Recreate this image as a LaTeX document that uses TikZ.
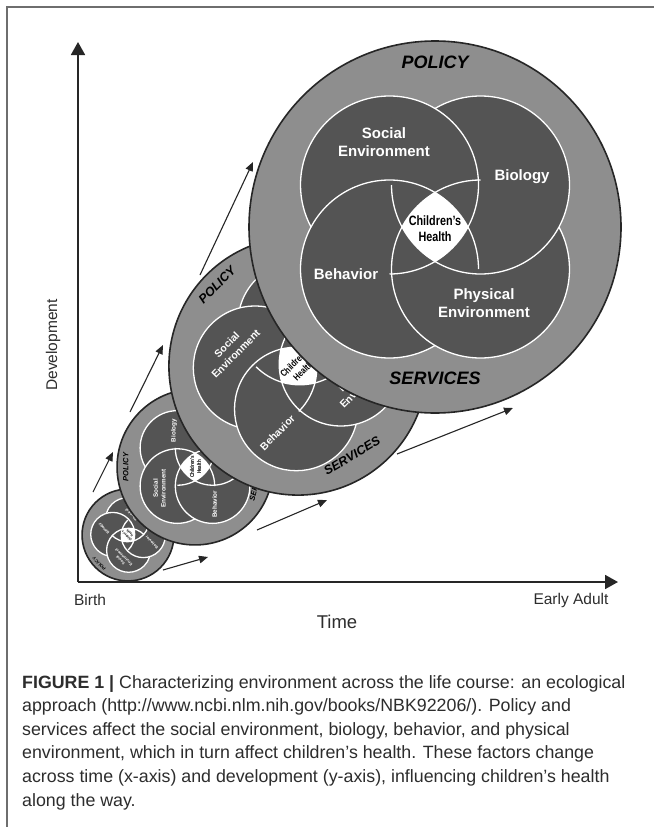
\documentclass[tikz,border=0pt]{standalone}
\usepackage{fontspec}
\setmainfont{Liberation Sans}
\usetikzlibrary{arrows.meta}

\definecolor{ringgray}{RGB}{142,142,142}
\definecolor{venngray}{RGB}{84,84,84}
\definecolor{framegray}{RGB}{110,110,110}
\definecolor{inkgray}{RGB}{45,45,45}

\tikzset{
  ringdisc/.style={fill=ringgray, draw=black!85, line width=1.6pt},
  venndisc/.style={fill=venngray},
  vennrim/.style={draw=white, line width=1.3pt},
  vennlabel/.style={text=white, font=\bfseries\fontsize{15}{18.5}\selectfont, align=center, inner sep=0pt, transform shape},
  healthlabel/.style={text=black, font=\bfseries\fontsize{13.5}{16.5}\selectfont, align=center, inner sep=0pt, transform shape},
  outerlabel/.style={text=black, font=\bfseries\itshape\fontsize{18}{20}\selectfont, inner sep=0pt, transform shape},
  growth/.style={-{Triangle[length=9pt,width=7.5pt]}, line width=1.1pt, draw=black!85},
  axisline/.style={-{Triangle[length=13pt,width=14pt]}, line width=1.8pt, draw=black!85},
  axislabel/.style={text=inkgray, font=\fontsize{15.5}{18}\selectfont, inner sep=0pt},
  captionline/.style={text=inkgray, font=\fontsize{17.8}{20}\selectfont, anchor=base west, inner sep=0pt},
}

% Labels of one stage, in its own (unrotated, unscaled) frame.
% #1 name prefix; \ecoservicestilt turns SERVICES about the centre.
\newcommand{\ecoPolicy}[1]{\node[outerlabel] (#1policy) at (0,165) {POLICY};}
\newcommand{\ecoServices}[1]{\node[outerlabel, rotate=\ecoservicestilt] (#1services) at (-90+\ecoservicestilt:151) {SERVICES};}
\newcommand{\ecoSocial}[1]{\node[vennlabel] (#1social) at (-51,85) {Social\\Environment};}
\newcommand{\ecoBiology}[1]{\node[vennlabel] (#1biology) at (87,50) {Biology};}
\newcommand{\ecoBehavior}[1]{\node[vennlabel] (#1behavior) at (-89,-47) {Behavior};}
\newcommand{\ecoPhysical}[1]{\node[vennlabel] (#1physical) at (49,-76) {Physical\\Environment};}
\newcommand{\ecoHealth}[1]{\node[healthlabel] (#1health) at (0,-1.5) {\scalebox{0.8}[1]{Children’s}\\\scalebox{0.8}[1]{Health}};}

% One stage of the ecological model.
% #1,#2 centre, #3 scale, #4 rotation, #5 name prefix, #6 tilt of SERVICES,
% #7 labels to set (those left uncovered by the next stage).
% The four rims interlock like a pinwheel: each one is left out from its
% outer crossing to its extreme point, under the neighbouring circle.
\newcommand{\ecomodel}[7]{%
  \begin{scope}[shift={(#1,#2)}, scale=#3, rotate=#4]
    \path[ringdisc] (0,0) circle (186pt);
    \foreach \cx/\cy in {-45.5/42, 45.5/42, -45.5/-42, 45.5/-42}
      \path[venndisc] (\cx,\cy) circle (89pt);
    \begin{scope}
      \clip (-45.5,42) circle (89pt);
      \clip (45.5,42) circle (89pt);
      \clip (-45.5,-42) circle (89pt);
      \fill[white] (45.5,-42) circle (89pt);
    \end{scope}
    % social, biology, behaviour, physical
    \path[vennrim] (-45.5,42) ++(-90:89pt) arc[start angle=-90, end angle=208.16, radius=89pt];
    \path[vennrim] (45.5,42) ++(-180:89pt) arc[start angle=-180, end angle=120.75, radius=89pt];
    \path[vennrim] (-45.5,-42) ++(0:89pt) arc[start angle=0, end angle=300.75, radius=89pt];
    \path[vennrim] (45.5,-42) ++(90:89pt) arc[start angle=90, end angle=388.16, radius=89pt];
    \def\ecoservicestilt{#6}%
    \foreach \lab in {#7} {\csname eco\lab\endcsname{#5}}
  \end{scope}}

\begin{document}
\begin{tikzpicture}[x=1pt, y=1pt]
  \useasboundingbox (0,0) rectangle (654,-827);
  \fill[white] (0,0) rectangle (654,-827);

  % figure frame
  \coordinate (frameBL) at (7,-827);
  \coordinate (frameTL) at (7,-7);
  \coordinate (frameTR) at (654,-7);
  \draw[framegray, line width=1.3pt] (frameBL) -- (frameTL) -- (frameTR);

  % axes
  \coordinate (origin) at (78,-582);
  \coordinate (devtip) at (78,-42);
  \coordinate (timetip) at (618,-582);
  \draw[axisline] (origin) -- (devtip);
  \draw[axisline] (origin) -- (timetip);
  \node[axislabel, rotate=90] (development) at (53,-345) {Development};
  \node[axislabel] (birth) at (90,-600) {Birth};
  \node[axislabel] (earlyadult) at (571,-600) {Early Adult};
  \node[axislabel, font=\fontsize{18.5}{20}\selectfont] (time) at (337,-622) {Time};

  % the four stages, smallest first so that each larger one overlaps it
  \ecomodel{128}{-535}{0.247}{135}{a}{-14}{Policy,Social,Biology,Behavior,Physical,Health}
  \ecomodel{195}{-467}{0.419}{90}{b}{-14}{Policy,Services,Social,Biology,Behavior,Health}
  \ecomodel{298}{-366}{0.694}{45}{c}{-14}{Policy,Services,Social,Behavior,Physical,Health}
  \ecomodel{435}{-227}{1}{0}{d}{0}{Policy,Services,Social,Biology,Behavior,Physical,Health}

  % growth arrows between the stages
  \coordinate (up1s) at (93,-492);   \coordinate (up1e) at (113,-452);
  \coordinate (up2s) at (130,-412);  \coordinate (up2e) at (163,-345);
  \coordinate (up3s) at (200,-275);  \coordinate (up3e) at (253,-162);
  \coordinate (lo1s) at (163,-570);  \coordinate (lo1e) at (208,-557);
  \coordinate (lo2s) at (257,-530);  \coordinate (lo2e) at (327,-500);
  \coordinate (lo3s) at (397,-454);  \coordinate (lo3e) at (513,-408);
  \draw[growth] (up1s) -- (up1e);
  \draw[growth] (up2s) -- (up2e);
  \draw[growth] (up3s) -- (up3e);
  \draw[growth] (lo1s) -- (lo1e);
  \draw[growth] (lo2s) -- (lo2e);
  \draw[growth] (lo3s) -- (lo3e);

  % caption
  \node[captionline] (cap1) at (22,-688) {\textbf{FIGURE 1 |} Characterizing environment across the life course: an ecological};
  \node[captionline] (cap2) at (22,-711.6) {approach (http://www.ncbi.nlm.nih.gov/books/NBK92206/). Policy and};
  \node[captionline] (cap3) at (22,-735.2) {services affect the social environment, biology, behavior, and physical};
  \node[captionline] (cap4) at (22,-758.8) {environment, which in turn affect children’s health. These factors change};
  \node[captionline] (cap5) at (22,-782.4) {across time (x-axis) and development (y-axis), influencing children’s health};
  \node[captionline] (cap6) at (22,-806) {along the way.};
\end{tikzpicture}
\end{document}
